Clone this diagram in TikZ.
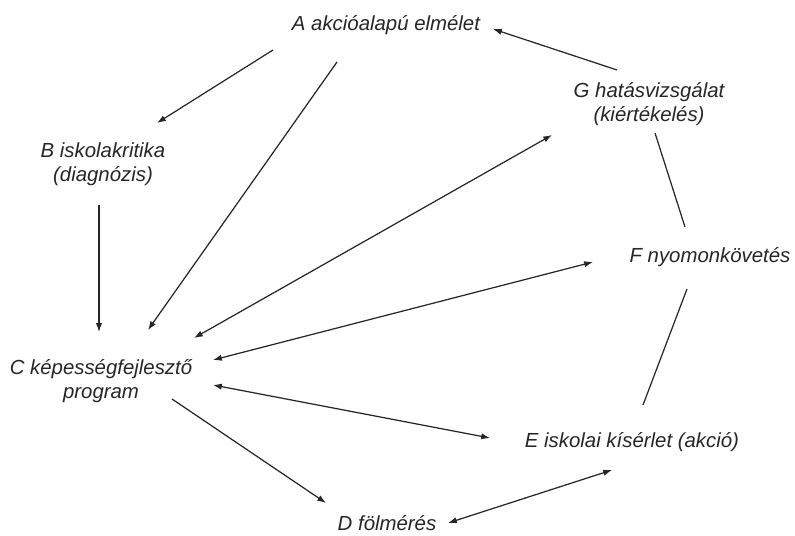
\documentclass[tikz,border=0pt]{standalone}
\usepackage{fontspec}
\setmainfont{Liberation Sans}
\usetikzlibrary{arrows.meta,calc}

\begin{document}
\begin{tikzpicture}[x=0.02cm,y=-0.02cm,
    lbl/.style={font=\itshape\fontsize{11.6}{13.6}\selectfont,align=center,inner sep=0pt,text=black!85},
    link/.style={line width=0.7pt,draw=black!85},
    >={Latex[length=5pt,width=3.6pt]}]
    \useasboundingbox (0,0) rectangle (795,536);
    \node[lbl] (A) at (386,25) {A akcióalapú elmélet};
    \node[lbl] (B) at (103,164) {B iskolakritika\\(diagnózis)};
    \node[lbl] (C) at (101,381) {C képességfejlesztő\\program};
    \node[lbl] (D) at (387,523) {D fölmérés};
    \node[lbl] (E) at (632,442) {E iskolai kísérlet (akció)};
    \node[lbl] (F) at (710,257) {F nyomonkövetés};
    \node[lbl] (G) at (649,104) {G hatásvizsgálat\\(kiértékelés)};
    % one way
    \draw[link,->] ($(A)+(-113,25)$) -- ($(B)+(54,-41)$);
    \draw[link,->] ($(A)+(-49,37)$) -- ($(C)+(47,-51)$);
    \draw[link,->] ($(B)+(-4,41)$) -- ($(C)+(-2,-49)$);
    \draw[link,->] ($(G)+(-32,-34)$) -- ($(A)+(107,4)$);
    \draw[link,->] ($(C)+(71,18)$) -- ($(D)+(-61,-20)$);
    % both ways
    \draw[link,<->] ($(C)+(93,-43)$) -- ($(G)+(-97,31)$);
    \draw[link,<->] ($(C)+(112,-21)$) -- ($(F)+(-117,5)$);
    \draw[link,<->] ($(C)+(112,4)$) -- ($(E)+(-142,-4)$);
    \draw[link,<->] ($(D)+(61,0)$) -- ($(E)+(-20,28)$);
    % no tips
    \draw[link] ($(G)+(6,29)$) -- ($(F)+(-25,-30)$);
    \draw[link] ($(F)+(-23,32)$) -- ($(E)+(11,-37)$);
\end{tikzpicture}
\end{document}
